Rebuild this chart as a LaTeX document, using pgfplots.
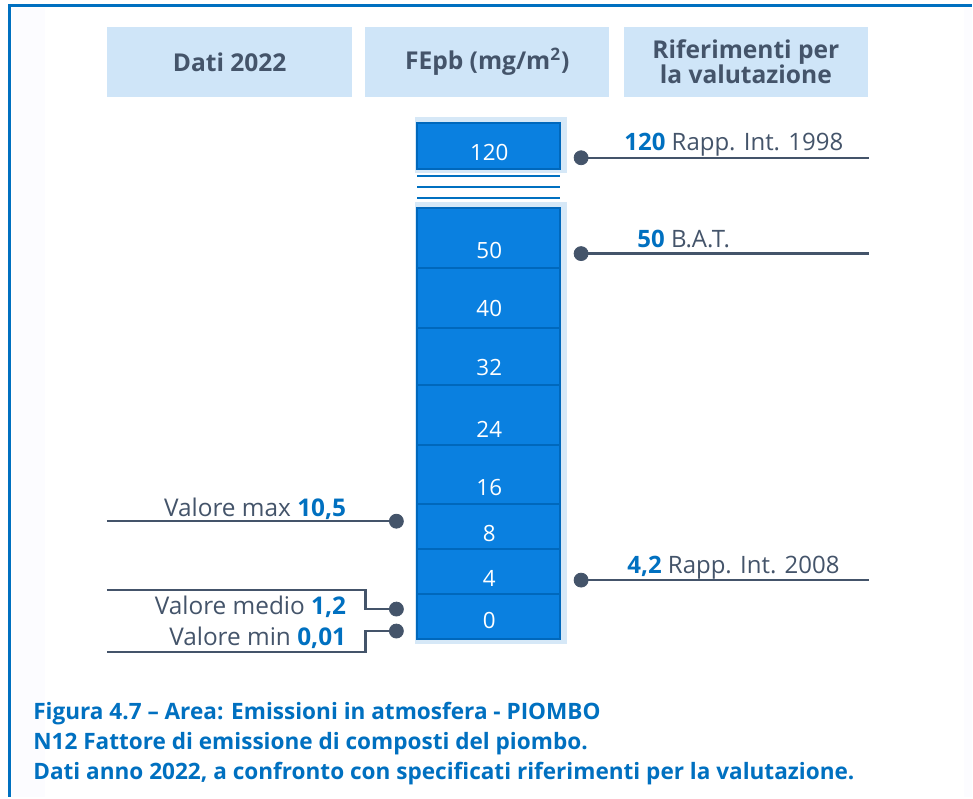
\documentclass[border=0pt]{standalone}
\usepackage{pgfplots}
\pgfplotsset{compat=1.18}
\usepackage{fontspec}
\setmainfont{Open Sans}
\definecolor{frame}{HTML}{0070C0}
\definecolor{blockfill}{HTML}{0A80E0}
\definecolor{blockedge}{HTML}{0068BC}
\definecolor{head}{HTML}{CFE5F8}
\definecolor{ink}{HTML}{44546A}
\definecolor{num}{HTML}{0070C0}
\definecolor{halo}{HTML}{C6DFF5}
\newcommand{\fs}[1]{\fontsize{#1}{#1}\selectfont}
\begin{document}
\begin{tikzpicture}
\begin{axis}[scale only axis, width=486.5pt, height=399pt,
  xmin=0, xmax=973, ymin=0, ymax=798, y dir=reverse,
  axis lines=none, clip=false, ticks=none]
% background and frame
\fill[white] (axis cs:0,0) rectangle (axis cs:973,798);
\fill[blue!1!white] (axis cs:12,8) rectangle (axis cs:973,798);
\fill[white] (axis cs:45,8) rectangle (axis cs:965,798);
\addplot[frame, line width=1.5pt] coordinates {(10,798) (10,6) (973,6)};
% header boxes
\fill[head] (axis cs:107,27) rectangle (axis cs:353,97);
\fill[head] (axis cs:366,27) rectangle (axis cs:610,97);
\fill[head] (axis cs:625,27) rectangle (axis cs:869,97);
\node[ink, font=\fs{12.3}\bfseries] at (axis cs:230,62) {Dati 2022};
\node[ink, font=\fs{12.3}\bfseries] at (axis cs:488,62) {FEpb (mg/m\textsuperscript{2})};
\node[ink, font=\fs{12.3}\bfseries, align=center, inner sep=0pt] at (axis cs:747,62) {\fontsize{12.3}{12.5}\selectfont Riferimenti per\\la valutazione};
% halo
\addplot[draw=none, fill=halo, fill opacity=0.7] coordinates {(416,117) (568,117) (568,173) (416,173)} -- cycle;
\addplot[draw=none, fill=halo, fill opacity=0.7] coordinates {(416,202) (568,202) (568,645) (416,645)} -- cycle;
% top block 120
\addplot[draw=blockedge, line width=1pt, fill=blockfill] coordinates {(418,123) (561,123) (561,169) (418,169)} -- cycle;
% break lines
\addplot[frame, line width=1.2pt] coordinates {(418,176) (561,176)};
\addplot[frame, line width=1.2pt] coordinates {(418,187) (561,187)};
\addplot[frame, line width=1.2pt] coordinates {(418,198) (561,198)};
% main stack segments
\addplot[draw=blockedge, line width=1pt, fill=blockfill] coordinates {(418,208) (561,208) (561,268) (418,268)} -- cycle;
\addplot[draw=blockedge, line width=1pt, fill=blockfill] coordinates {(418,268) (561,268) (561,328) (418,328)} -- cycle;
\addplot[draw=blockedge, line width=1pt, fill=blockfill] coordinates {(418,328) (561,328) (561,386) (418,386)} -- cycle;
\addplot[draw=blockedge, line width=1pt, fill=blockfill] coordinates {(418,386) (561,386) (561,446) (418,446)} -- cycle;
\addplot[draw=blockedge, line width=1pt, fill=blockfill] coordinates {(418,446) (561,446) (561,505) (418,505)} -- cycle;
\addplot[draw=blockedge, line width=1pt, fill=blockfill] coordinates {(418,505) (561,505) (561,550) (418,550)} -- cycle;
\addplot[draw=blockedge, line width=1pt, fill=blockfill] coordinates {(418,550) (561,550) (561,595) (418,595)} -- cycle;
\addplot[draw=blockedge, line width=1pt, fill=blockfill] coordinates {(418,595) (561,595) (561,640) (418,640)} -- cycle;
% block labels
\foreach \v/\y in {120/153, 50/251, 40/309, 32/368, 24/430, 16/488, 8/534, 4/579, 0/621} {
  \edef\tmp{\noexpand\node[white, font=\noexpand\fs{11.2}] at (axis cs:490,\y) {\v};}\tmp
}
% reference lines (right)
\addplot[ink, line width=1.2pt] coordinates {(582,158) (870,158)};
\addplot[ink, line width=1.2pt] coordinates {(582,254) (870,254)};
\addplot[ink, line width=1.2pt] coordinates {(582,581) (870,581)};
% data lines (left)
\addplot[ink, line width=1.2pt] coordinates {(107,522) (397,522)};
\addplot[ink, line width=1.2pt] coordinates {(107,591) (366,591) (366,610) (397,610)};
\addplot[ink, line width=1.2pt] coordinates {(397,632) (366,632) (366,653) (107,653)};
% dots
\addplot[only marks, mark=*, mark size=3.5pt, ink] coordinates {(582,158) (582,254) (582,581) (397,522) (397,610) (397,632)};
% texts
\node[anchor=base west, ink, font=\fs{12}, inner sep=0pt] at (axis cs:625,151) {\textcolor{num}{\bfseries 120} Rapp. Int. 1998};
\node[anchor=base west, ink, font=\fs{12}, inner sep=0pt] at (axis cs:638,248) {\textcolor{num}{\bfseries 50} B.A.T.};
\node[anchor=base west, ink, font=\fs{12}, inner sep=0pt] at (axis cs:628,574) {\textcolor{num}{\bfseries 4,2} Rapp. Int. 2008};
\node[anchor=base east, ink, font=\fs{12.2}, inner sep=0pt] at (axis cs:347,517) {Valore max \textcolor{num}{\bfseries 10,5}};
\node[anchor=base east, ink, font=\fs{12.2}, inner sep=0pt] at (axis cs:347,615) {Valore medio \textcolor{num}{\bfseries 1,2}};
\node[anchor=base east, ink, font=\fs{12.2}, inner sep=0pt] at (axis cs:347,646) {Valore min \textcolor{num}{\bfseries 0,01}};
% caption
\node[anchor=base west, num, font=\fs{11.3}\bfseries, inner sep=0pt] at (axis cs:33,721) {Figura 4.7 – Area: Emissioni in atmosfera - PIOMBO};
\node[anchor=base west, num, font=\fs{11.3}\bfseries, inner sep=0pt] at (axis cs:33,751) {N12 Fattore di emissione di composti del piombo.};
\node[anchor=base west, num, font=\fs{11.3}\bfseries, inner sep=0pt] at (axis cs:33,781) {Dati anno 2022, a confronto con specificati riferimenti per la valutazione.};
\end{axis}
\end{tikzpicture}
\end{document}
